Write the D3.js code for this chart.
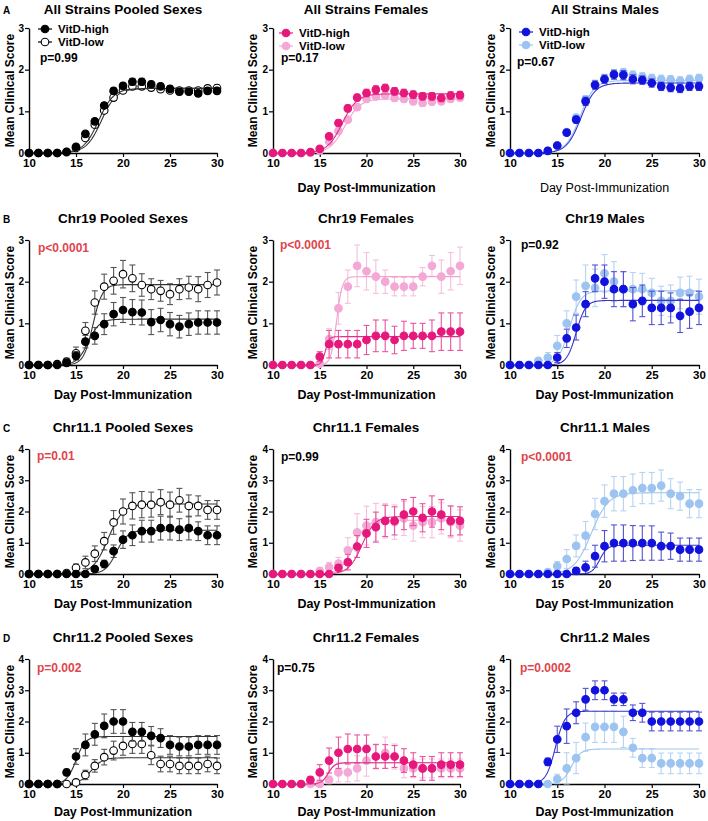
<!DOCTYPE html>
<html><head><meta charset="utf-8">
<script src="https://cdn.jsdelivr.net/npm/d3@7"></script>
<style>
body{margin:0;background:#fff}
svg{display:block}
text{font-family:Arial,"Liberation Sans",sans-serif;fill:#000}
</style></head><body>
<svg id="c" width="708" height="821"></svg>
<script>
// ---------------- DATA ----------------
const days = [10,11,12,13,14,15,16,17,18,19,20,21,22,23,24,25,26,27,28,29,30];
const xTicks = [10,15,20,25,30];
const yTicks3 = [0,1,2,3];
const yTicks4 = [0,1,2,3,4];
const seriesNames = ["VitD-high","VitD-low"];
const panelLetters = ["A","B","C","D"];
const titles = ["All Strains Pooled Sexes","All Strains Females","All Strains Males",
  "Chr19 Pooled Sexes","Chr19 Females","Chr19 Males",
  "Chr11.1 Pooled Sexes","Chr11.1 Females","Chr11.1 Males",
  "Chr11.2 Pooled Sexes","Chr11.2 Females","Chr11.2 Males"];
const pValues = ["p=0.99","p=0.17","p=0.67","p<0.0001","p<0.0001","p=0.92","p=0.01","p=0.99","p<0.0001","p=0.002","p=0.75","p=0.0002"];
const pSignificant = [false,false,false,true,true,false,true,false,true,true,false,true];

const A1_high = [0,0,0,0,0.03,0.15,0.46,0.76,1.14,1.49,1.61,1.71,1.71,1.65,1.6,1.54,1.47,1.47,1.43,1.49,1.49];
const A1_highErr = [0,0,0,0,0.02,0.04,0.05,0.06,0.07,0.07,0.07,0.08,0.08,0.07,0.07,0.07,0.07,0.07,0.07,0.07,0.07];
const A1_low = [0,0,0,0,0.02,0.12,0.36,0.68,1.02,1.33,1.5,1.6,1.6,1.57,1.53,1.5,1.5,1.5,1.5,1.55,1.56];
const A1_lowErr = [0,0,0,0,0.02,0.04,0.05,0.06,0.06,0.07,0.07,0.07,0.07,0.07,0.07,0.07,0.07,0.07,0.07,0.07,0.07];

const A2_high = [0,0,0,0,0.02,0.1,0.4,0.72,1.07,1.33,1.44,1.52,1.56,1.48,1.44,1.4,1.36,1.36,1.32,1.38,1.39];
const A2_highErr = [0,0,0,0,0.02,0.04,0.06,0.07,0.08,0.08,0.09,0.09,0.09,0.09,0.09,0.09,0.09,0.09,0.09,0.09,0.09];
const A2_low = [0,0,0,0,0.01,0.06,0.27,0.53,0.8,1.1,1.3,1.36,1.38,1.32,1.3,1.24,1.2,1.23,1.24,1.3,1.33];
const A2_lowErr = [0,0,0,0,0.02,0.04,0.05,0.06,0.07,0.08,0.08,0.08,0.08,0.08,0.08,0.08,0.08,0.08,0.08,0.08,0.08];

const A3_high = [0,0,0,0,0.05,0.18,0.49,0.8,1.24,1.63,1.77,1.88,1.87,1.77,1.75,1.68,1.6,1.57,1.55,1.6,1.6];
const A3_highErr = [0,0,0,0,0.02,0.04,0.06,0.08,0.1,0.1,0.1,0.11,0.11,0.11,0.1,0.1,0.1,0.1,0.1,0.1,0.1];
const A3_low = [0,0,0,0,0.05,0.18,0.5,0.85,1.29,1.65,1.79,1.89,1.93,1.87,1.83,1.79,1.77,1.76,1.73,1.77,1.79];
const A3_lowErr = [0,0,0,0,0.02,0.04,0.06,0.08,0.09,0.1,0.1,0.1,0.1,0.1,0.1,0.1,0.1,0.1,0.1,0.1,0.1];

const B1_high = [0,0,0,0,0.05,0.22,0.56,0.7,0.98,1.22,1.32,1.27,1.26,1.03,1.08,0.98,0.92,0.98,1.02,1.02,1.02];
const B1_highErr = [0,0,0,0,0.03,0.1,0.15,0.2,0.25,0.28,0.3,0.3,0.3,0.3,0.28,0.28,0.27,0.27,0.28,0.28,0.28];
const B1_low = [0,0,0,0.02,0.08,0.28,0.82,1.5,1.88,2.02,2.18,2.08,1.92,1.82,1.78,1.7,1.82,1.86,1.82,1.92,1.98];
const B1_lowErr = [0,0,0,0.02,0.08,0.15,0.2,0.28,0.3,0.32,0.33,0.32,0.27,0.25,0.25,0.25,0.25,0.27,0.3,0.3,0.3];

const B2_high = [0,0,0,0,0,0.2,0.5,0.5,0.5,0.5,0.6,0.7,0.7,0.6,0.7,0.7,0.7,0.7,0.8,0.8,0.8];
const B2_highErr = [0,0,0,0,0,0.12,0.33,0.33,0.33,0.33,0.35,0.38,0.38,0.33,0.35,0.3,0.3,0.38,0.45,0.45,0.45];
const B2_low = [0,0,0,0,0,0.03,0.62,1.36,1.88,2.38,2.25,2.12,2.0,1.88,1.88,1.88,2.12,2.38,2.12,2.25,2.38];
const B2_lowErr = [0,0,0,0,0,0.05,0.25,0.38,0.4,0.5,0.45,0.4,0.28,0.22,0.22,0.22,0.22,0.25,0.4,0.45,0.45];

const B3_high = [0,0,0,0,0,0.18,0.64,0.9,1.46,2.08,2.0,1.82,1.82,1.46,1.54,1.37,1.37,1.37,1.18,1.28,1.37];
const B3_highErr = [0,0,0,0,0,0.12,0.22,0.3,0.3,0.32,0.4,0.42,0.42,0.4,0.38,0.4,0.4,0.36,0.4,0.4,0.4];
const B3_low = [0,0,0,0.1,0.18,0.46,1.0,1.64,1.9,1.85,2.2,2.0,1.82,1.82,1.82,1.73,1.54,1.54,1.73,1.73,1.64];
const B3_lowErr = [0,0,0,0.06,0.12,0.25,0.3,0.4,0.5,0.45,0.45,0.48,0.42,0.4,0.38,0.35,0.35,0.38,0.38,0.4,0.42];

const C1_high = [0,0,0,0,0,0,0,0.16,0.32,0.73,1.1,1.24,1.37,1.37,1.47,1.47,1.42,1.47,1.37,1.24,1.24];
const C1_highErr = [0,0,0,0,0,0,0,0.08,0.12,0.2,0.28,0.33,0.35,0.35,0.38,0.38,0.35,0.38,0.3,0.3,0.3];
const C1_low = [0,0,0,0,0.03,0.2,0.37,0.65,1.05,1.65,2.0,2.18,2.22,2.22,2.3,2.22,2.36,2.18,2.18,2.05,2.05];
const C1_lowErr = [0,0,0,0,0.03,0.12,0.2,0.25,0.28,0.38,0.4,0.42,0.42,0.4,0.4,0.4,0.38,0.35,0.32,0.3,0.3];

const C2_high = [0,0,0,0,0,0,0,0.2,0.38,0.88,1.3,1.5,1.7,1.7,1.9,2.0,1.8,2.0,1.9,1.7,1.7];
const C2_highErr = [0,0,0,0,0,0,0,0.1,0.25,0.35,0.45,0.48,0.5,0.45,0.48,0.45,0.45,0.5,0.48,0.48,0.45];
const C2_low = [0,0,0,0,0,0.1,0.22,0.33,0.76,1.33,1.55,1.66,1.7,1.66,1.78,1.55,1.66,1.66,1.78,1.66,1.55];
const C2_lowErr = [0,0,0,0,0,0.1,0.15,0.2,0.4,0.6,0.62,0.6,0.55,0.55,0.55,0.5,0.5,0.5,0.5,0.5,0.5];

const C3_high = [0,0,0,0,0,0,0,0.1,0.21,0.57,0.89,0.99,0.99,0.99,0.99,0.99,0.89,0.89,0.78,0.78,0.78];
const C3_highErr = [0,0,0,0,0,0,0,0.1,0.2,0.35,0.5,0.58,0.58,0.56,0.55,0.55,0.45,0.42,0.37,0.37,0.37];
const C3_low = [0,0,0,0,0.06,0.25,0.48,0.9,1.23,1.92,2.33,2.57,2.57,2.68,2.75,2.75,2.83,2.57,2.49,2.25,2.25];
const C3_lowErr = [0,0,0,0,0.06,0.15,0.3,0.35,0.45,0.5,0.52,0.55,0.55,0.52,0.5,0.5,0.5,0.48,0.45,0.45,0.45];

const D1_high = [0,0,0,0,0.37,0.88,1.25,1.59,1.86,2.0,2.0,1.67,1.67,1.54,1.47,1.25,1.2,1.2,1.25,1.25,1.25];
const D1_highErr = [0,0,0,0,0.1,0.25,0.35,0.35,0.38,0.38,0.38,0.3,0.3,0.3,0.3,0.3,0.3,0.3,0.3,0.3,0.3];
const D1_low = [0,0,0,0,0,0.05,0.29,0.58,0.86,1.07,1.22,1.28,1.28,0.92,0.64,0.64,0.58,0.58,0.58,0.64,0.58];
const D1_lowErr = [0,0,0,0,0,0.05,0.15,0.2,0.25,0.3,0.3,0.3,0.3,0.3,0.25,0.25,0.25,0.25,0.25,0.25,0.25];

const D2_high = [0,0,0,0,0.13,0.37,0.75,1.0,1.12,1.12,1.12,0.88,0.88,0.88,0.75,0.62,0.5,0.5,0.62,0.62,0.62];
const D2_highErr = [0,0,0,0,0.1,0.25,0.4,0.5,0.48,0.45,0.45,0.38,0.38,0.35,0.38,0.38,0.38,0.38,0.38,0.38,0.38];
const D2_low = [0,0,0,0,0,0,0.13,0.37,0.37,0.5,0.75,0.88,1.0,0.88,0.5,0.5,0.5,0.5,0.5,0.5,0.5];
const D2_lowErr = [0,0,0,0,0,0,0.12,0.3,0.3,0.4,0.5,0.4,0.5,0.4,0.3,0.3,0.3,0.3,0.3,0.3,0.3];

const D3_high = [0,0,0,0,0.71,1.43,1.85,2.28,2.71,3.0,3.0,2.71,2.71,2.28,2.28,2.0,2.0,2.0,2.0,2.0,2.0];
const D3_highErr = [0,0,0,0,0.12,0.42,0.55,0.35,0.35,0.3,0.3,0.2,0.2,0.25,0.3,0.3,0.3,0.3,0.3,0.3,0.3];
const D3_low = [0,0,0,0,0,0.16,0.5,0.83,1.5,1.83,1.83,1.83,1.67,1.16,0.83,0.83,0.66,0.66,0.66,0.66,0.66];
const D3_lowErr = [0,0,0,0,0,0.15,0.5,0.5,0.45,0.5,0.5,0.5,0.5,0.3,0.3,0.3,0.33,0.33,0.33,0.33,0.33];

// Sigmoid (Boltzmann) fit parameters: [top, day at half-max, slope]
const fitsHigh = [[1.55,17.4,0.8],[1.42,17.4,0.8],[1.68,17.5,0.75],
  [1.1,16.3,0.6],[0.68,15.6,0.2],[1.55,17.0,0.5],
  [1.4,19.3,0.6],[1.84,19.5,0.7],[0.92,19.5,0.4],
  [1.52,15.0,0.5],[0.68,15.9,0.35],[2.33,14.8,0.5]];
const fitsLow = [[1.55,17.7,0.8],[1.3,17.7,0.8],[1.74,17.4,0.75],
  [1.93,16.8,0.5],[2.12,16.8,0.3],[1.78,16.3,0.6],
  [2.24,18.4,0.8],[1.72,18.6,0.7],[2.6,18.6,0.9],
  [0.84,16.6,0.6],[0.68,15.9,0.35],[1.12,16.5,0.5]];

const highSeries = [A1_high,A2_high,A3_high,B1_high,B2_high,B3_high,C1_high,C2_high,C3_high,D1_high,D2_high,D3_high];
const highErrs = [A1_highErr,A2_highErr,A3_highErr,B1_highErr,B2_highErr,B3_highErr,C1_highErr,C2_highErr,C3_highErr,D1_highErr,D2_highErr,D3_highErr];
const lowSeries = [A1_low,A2_low,A3_low,B1_low,B2_low,B3_low,C1_low,C2_low,C3_low,D1_low,D2_low,D3_low];
const lowErrs = [A1_lowErr,A2_lowErr,A3_lowErr,B1_lowErr,B2_lowErr,B3_lowErr,C1_lowErr,C2_lowErr,C3_lowErr,D1_lowErr,D2_lowErr,D3_lowErr];

// ---------------- STYLE / LAYOUT ----------------
const colStyles = [
  {high:{fill:"#000",stroke:"#000",err:"#555",fit:"#333"}, low:{fill:"#fff",stroke:"#000",err:"#555",fit:"#333"}},
  {high:{fill:"#e6187c",stroke:"#e6187c",err:"#e8559e",fit:"#e0308a"}, low:{fill:"#f4a8d5",stroke:"#f4a8d5",err:"#f5bfdf",fit:"#f2a2cf"}},
  {high:{fill:"#1212de",stroke:"#1212de",err:"#5353cf",fit:"#3535c8"}, low:{fill:"#9dc4f0",stroke:"#9dc4f0",err:"#b6d3f2",fit:"#9dc4f0"}}
];
const colLayout = [{x0:29,x1:217,ylab:10,titleX:123},{x0:273,x1:460,ylab:253,titleX:366},{x0:510,x1:699,ylab:491,titleX:605}];
const rowLayout = [
  {y0:153,yTop:28,ymax:3,ticks:yTicks3,title:14,letter:14,xtitle:192},
  {y0:365,yTop:240,ymax:3,ticks:yTicks3,title:223,letter:223,xtitle:399},
  {y0:574,yTop:449,ymax:4,ticks:yTicks4,title:432,letter:432,xtitle:608},
  {y0:784,yTop:659,ymax:4,ticks:yTicks4,title:642,letter:642,xtitle:816}
];
const pPos = [[40,62],[281,62],[517,66],[38,252],[280,249],[521,249],[37,460],[281,461],[521,461],[37,672],[277,672],[520,672]];
const legendX = [45,286,526];
const legendY = [[29,42],[33,46],[32,45]];

const svg = d3.select("#c");
svg.append("rect").attr("width",708).attr("height",821).attr("fill","#fff");

panelLetters.forEach((L,r)=>{
  svg.append("text").attr("x",3).attr("y",rowLayout[r].letter).attr("font-size",10).attr("font-weight","bold").text(L);
});

function boltz(p,x){ return p[0]/(1+Math.exp((p[1]-x)/p[2])); }

for(let i=0;i<12;i++){
  const r = Math.floor(i/3), c = i%3;
  const R = rowLayout[r], C = colLayout[c], S = colStyles[c];
  const x = d3.scaleLinear().domain([10,30]).range([C.x0,C.x1]);
  const y = d3.scaleLinear().domain([0,R.ymax]).range([R.y0,R.yTop]);
  const g = svg.append("g");

  g.append("text").attr("x",C.titleX).attr("y",R.title).attr("text-anchor","middle")
    .attr("font-size",13.5).attr("font-weight","bold").text(titles[i]);

  const xa = g.append("g").attr("transform",`translate(0,${R.y0})`)
    .call(d3.axisBottom(x).tickValues(xTicks).tickSize(4).tickSizeOuter(0).tickPadding(2).tickFormat(d3.format("d")));
  const ya = g.append("g").attr("transform",`translate(${C.x0},0)`)
    .call(d3.axisLeft(y).tickValues(R.ticks).tickSize(4).tickSizeOuter(0).tickPadding(1).tickFormat(d3.format("d")));
  [xa,ya].forEach(a=>{
    a.select(".domain").attr("stroke","#000").attr("stroke-width",1.4);
    a.selectAll(".tick line").attr("stroke","#000").attr("stroke-width",1.2);
    a.selectAll(".tick text").attr("fill","#000").attr("font-weight","bold")
      .style("font-family","Arial, 'Liberation Sans', sans-serif");
  });
  xa.selectAll(".tick text").attr("font-size",11.5);
  ya.selectAll(".tick text").attr("font-size",10);

  g.append("text").attr("transform",`translate(${C.ylab},${(R.y0+R.yTop)/2}) rotate(-90)`)
    .attr("text-anchor","middle").attr("dominant-baseline","central")
    .attr("font-size",12).attr("font-weight","bold").text("Mean Clinical Score");
  if(!(r===0 && c===0)){
    g.append("text").attr("x",(C.x0+C.x1)/2).attr("y",R.xtitle).attr("text-anchor","middle")
      .attr("font-size",12.5).attr("font-weight",(r===0&&c===2)?"normal":"bold").text("Day Post-Immunization");
  }

  const sets = [{v:lowSeries[i],e:lowErrs[i],fit:fitsLow[i],st:S.low},{v:highSeries[i],e:highErrs[i],fit:fitsHigh[i],st:S.high}];
  const fitX = d3.range(10,30.001,0.1);
  sets.forEach(s=>{
    const eg = g.append("g").attr("stroke",s.st.err).attr("stroke-width",1.1).attr("fill","none");
    days.forEach((d,k)=>{
      const e = s.e[k]; if(!e) return;
      const px = x(d), yt = y(s.v[k]+e), yb = y(Math.max(0,s.v[k]-e));
      eg.append("line").attr("x1",px).attr("x2",px).attr("y1",yt).attr("y2",yb);
      eg.append("line").attr("x1",px-3).attr("x2",px+3).attr("y1",yt).attr("y2",yt);
      eg.append("line").attr("x1",px-3).attr("x2",px+3).attr("y1",yb).attr("y2",yb);
    });
    g.append("path").attr("fill","none").attr("stroke",s.st.fit).attr("stroke-width",1.1)
      .attr("d",d3.line().x(d=>x(d)).y(d=>y(boltz(s.fit,d)))(fitX));
    g.append("g").selectAll("circle").data(days).join("circle")
      .attr("cx",d=>x(d)).attr("cy",(d,k)=>y(s.v[k])).attr("r",3.8)
      .attr("fill",s.st.fill).attr("stroke",s.st.stroke).attr("stroke-width",1.1);
  });

  g.append("text").attr("x",pPos[i][0]).attr("y",pPos[i][1]).attr("font-size",12).attr("font-weight","bold")
    .style("fill",pSignificant[i]?"#e0454b":"#000").text(pValues[i]);

  if(r===0){
    const lx = legendX[c], ly = legendY[c];
    [S.high,S.low].forEach((st,k)=>{
      g.append("line").attr("x1",lx-7).attr("x2",lx+7).attr("y1",ly[k]).attr("y2",ly[k]).attr("stroke",st.fit==="#333"?"#000":st.stroke).attr("stroke-width",1.2);
      g.append("circle").attr("cx",lx).attr("cy",ly[k]).attr("r",3.8).attr("fill",st.fill).attr("stroke",st.stroke).attr("stroke-width",1.1);
      g.append("text").attr("x",lx+13).attr("y",ly[k]+4).attr("font-size",11.5).attr("font-weight","bold").text(seriesNames[k]);
    });
  }
}
</script></body></html>
